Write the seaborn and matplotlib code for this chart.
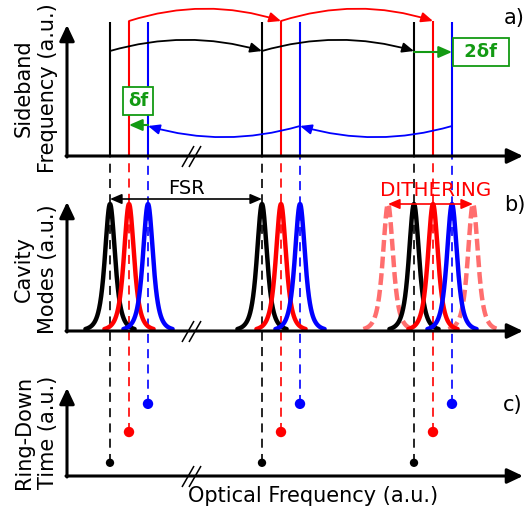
import numpy as np
import pandas as pd
import matplotlib
matplotlib.use("Agg")
import matplotlib.pyplot as plt
import seaborn as sns

# ---------------- data ----------------
mode_index = [0, 1, 2]                      # cavity mode number (FSR units)
sideband_names = ["carrier", "red", "blue"]
sideband_offset = [0.0, 0.125, 0.25]        # offset from mode (FSR units)
sideband_colors = ["black", "red", "blue"]
ringdown_time = [0.15, 0.50, 0.82]          # a.u.
dither_offset = [-0.296, 0.263]             # dithering extremes around red mode (FSR)
peak_gamma = 0.061                          # mode width (FSR units)
peak_amplitude = 1.0

panel_labels = ["a)", "b)", "c)"]
ylabels = ["Sideband\nFrequency (a.u.)", "Cavity\nModes (a.u.)", "Ring-Down\nTime (a.u.)"]
xlabel = "Optical Frequency (a.u.)"

# ---------------- layout ----------------
W, H = 525, 517
FSR_PX, X0_PX = 152.0, 110.0
def fx(px):  # layout pixel -> frequency coordinate
    return (px - X0_PX) / FSR_PX
def fy(py):  # layout pixel (from top) -> vertical coordinate
    return H - py

base = {"a": fy(156), "b": fy(331), "c": fy(476)}
top_arrow = {"a": fy(25), "b": fy(202), "c": fy(388)}
scale_a, scale_b, scale_c = 134, 127, 88

sns.set_style("white")
plt.rcParams["font.family"] = ["DejaVu Sans"]
plt.rcParams["text.color"] = "black"
plt.rcParams["lines.scale_dashes"] = False

fig = plt.figure(figsize=(W / 100, H / 100), dpi=100)
ax = fig.add_axes([0, 0, 1, 1])
ax.set_xlim(fx(0), fx(W))
ax.set_ylim(0, H)
ax.axis("off")

pal = dict(zip(sideband_names, sideband_colors))
green = "#139a13"

def mode_shape(g):
    return peak_amplitude / (1 + (g / peak_gamma) ** 2) ** 2

# axes arrows and breaks
for p in ["a", "b", "c"]:
    y0 = base[p]
    ax.annotate("", xy=(fx(67), top_arrow[p]), xytext=(fx(67), y0 - 1),
                arrowprops=dict(arrowstyle="-|>,head_length=0.95,head_width=0.45",
                                lw=2.2, color="black", mutation_scale=10,
                                shrinkA=0, shrinkB=0), zorder=5)
    ax.annotate("", xy=(fx(523), y0), xytext=(fx(66), y0),
                arrowprops=dict(arrowstyle="-|>,head_length=0.95,head_width=0.45",
                                lw=2.2, color="black", mutation_scale=10,
                                shrinkA=0, shrinkB=0), zorder=5)
    for dx in (0, 7):
        ax.plot([fx(182 + dx), fx(194 + dx)], [y0 - 11, y0 + 10],
                color="black", lw=1.1, zorder=5, solid_capstyle="butt")

# ---------------- panel a: sidebands ----------------
for name, off, col in zip(sideband_names, sideband_offset, sideband_colors):
    xs = [m + off for m in mode_index]
    ax.vlines(xs, base["a"], base["a"] + scale_a + (1 if name == "red" else 0),
              color=col, lw=1.5, zorder=3)

arc_kw = dict(arrowstyle="-|>,head_length=0.7,head_width=0.3", mutation_scale=10,
              lw=1.3, shrinkA=0, shrinkB=0)
for i in range(len(mode_index) - 1):
    ax.annotate("", xy=(mode_index[i + 1] + sideband_offset[1], fy(21)),
                xytext=(mode_index[i] + sideband_offset[1], fy(21)),
                arrowprops=dict(color="red", connectionstyle="arc3,rad=-0.16", **arc_kw), zorder=4)
    ax.annotate("", xy=(mode_index[i + 1] + sideband_offset[0], fy(51)),
                xytext=(mode_index[i] + sideband_offset[0], fy(51)),
                arrowprops=dict(color="black", connectionstyle="arc3,rad=-0.145", **arc_kw), zorder=4)
    j = len(mode_index) - 1 - i
    ax.annotate("", xy=(mode_index[j - 1] + sideband_offset[2], fy(126)),
                xytext=(mode_index[j] + sideband_offset[2], fy(126)),
                arrowprops=dict(color="blue", connectionstyle="arc3,rad=-0.145", **arc_kw), zorder=4)

g_kw = dict(arrowstyle="-|>,head_length=0.8,head_width=0.35", mutation_scale=10,
            lw=1.5, color=green, shrinkA=0, shrinkB=0)
ax.annotate("", xy=(mode_index[0] + sideband_offset[1], fy(125)),
            xytext=(mode_index[0] + sideband_offset[2], fy(125)), arrowprops=g_kw, zorder=6)
ax.annotate("", xy=(mode_index[2] + sideband_offset[2], fy(52)),
            xytext=(mode_index[2] + sideband_offset[0], fy(52)), arrowprops=g_kw, zorder=6)
box = dict(boxstyle="square,pad=0.28", fc="white", ec=green, lw=1.3)
ax.text(fx(138), fy(101), "δf", color=green, fontsize=13, fontweight="bold",
        ha="center", va="center", bbox=box, zorder=7)
ax.text(fx(481), fy(52), " 2δf ", color=green, fontsize=13, fontweight="bold",
        ha="center", va="center", bbox=box, zorder=7)

# ---------------- dashed connectors ----------------
for name, off, col, rt in zip(sideband_names, sideband_offset, sideband_colors, ringdown_time):
    xs = [m + off for m in mode_index]
    ax.vlines(xs, base["c"] + scale_c * rt, base["a"] - 1, color=col, lw=1.2,
              linestyles=[(0, (6.5, 4.5))], zorder=1)

# ---------------- panel b: cavity modes ----------------
grid = np.linspace(-0.162, 0.162, 201)
rows = []
for m in mode_index:
    for name, off in zip(sideband_names, sideband_offset):
        c = m + off
        for gx, a in zip(grid, mode_shape(grid)):
            rows.append({"x": c + gx, "y": base["b"] + scale_b * a,
                         "sideband": name, "peak": f"{m}-{name}"})
df_peaks = pd.DataFrame(rows)
sns.lineplot(data=df_peaks, x="x", y="y", hue="sideband", units="peak",
             estimator=None, sort=False, palette=pal, lw=3.2, legend=False, ax=ax, zorder=3)

rows = []
red_last = mode_index[-1] + sideband_offset[1]
for k, d in enumerate(dither_offset):
    for gx, a in zip(grid, mode_shape(grid)):
        rows.append({"x": red_last + d + gx, "y": base["b"] + scale_b * a, "peak": k})
df_dither = pd.DataFrame(rows)
sns.lineplot(data=df_dither, x="x", y="y", units="peak", estimator=None, sort=False,
             color="#ff6e6e", lw=3.2, linestyle=(0, (8.5, 3.5)), legend=False, ax=ax, zorder=2)

arr2 = dict(arrowstyle="<|-|>,head_length=0.7,head_width=0.3", mutation_scale=10,
            lw=1.2, shrinkA=0, shrinkB=0)
ax.annotate("", xy=(mode_index[1], fy(199)), xytext=(mode_index[0], fy(199)),
            arrowprops=dict(color="black", **arr2), zorder=6)
ax.text(fx(186), fy(189), "FSR", fontsize=14, ha="center", va="center")
ax.annotate("", xy=(red_last + dither_offset[1], fy(204)),
            xytext=(red_last + dither_offset[0], fy(204)),
            arrowprops=dict(color="red", **arr2), zorder=6)
ax.text(fx(436), fy(191), "DITHERING", color="red", fontsize=14.3, ha="center", va="center")

# ---------------- panel c: ring-down times ----------------
rows = []
for m in mode_index:
    for name, off, rt in zip(sideband_names, sideband_offset, ringdown_time):
        rows.append({"x": m + off, "y": base["c"] + scale_c * rt, "sideband": name})
df_dots = pd.DataFrame(rows)
sns.scatterplot(data=df_dots, x="x", y="y", hue="sideband", palette=pal,
                size="sideband", sizes={"carrier": 36, "red": 56, "blue": 56},
                edgecolor="none", legend=False, ax=ax, zorder=4)

# ---------------- text ----------------
for lab, yc in zip(ylabels, [fy(88), fy(269), fy(432)]):
    ax.text(fx(36), yc, lab, rotation=90, fontsize=15, ha="center", va="center",
            multialignment="center", linespacing=1.3)
for lab, (px, py) in zip(panel_labels, [(504, 18), (504, 205), (503, 405)]):
    ax.text(fx(px), fy(py), lab, fontsize=15, ha="left", va="center")
ax.text(fx(313), fy(496), xlabel, fontsize=15, ha="center", va="center")

ax.set_xlabel("")
ax.set_ylabel("")
fig.savefig("out.png", dpi=100)
